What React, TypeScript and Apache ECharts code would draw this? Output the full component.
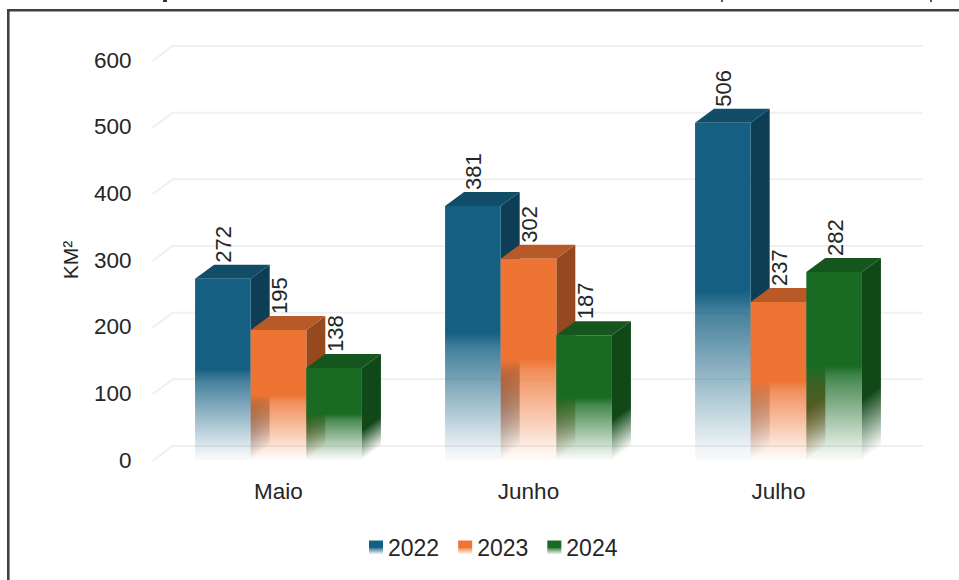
import React, { useEffect, useRef } from "react";
import * as echarts from "echarts";

const categories = ["Maio", "Junho", "Julho"];
const years = ["2022", "2023", "2024"];
const values2022 = [272, 381, 506];
const values2023 = [195, 302, 237];
const values2024 = [138, 187, 282];
const gridTicks = [0, 100, 200, 300, 400, 500, 600];

const frontColors = ["21,96,130", "238,116,51", "25,107,36"];
const sideColors = ["13,62,85", "150,72,30", "17,72,24"];
const topColors = ["17,77,105", "184,90,40", "20,86,29"];

const DX = 19;
const DY = 14;
const FONT = '"Liberation Sans", Arial, sans-serif';

const fade = (rgb: string) =>
  new echarts.graphic.LinearGradient(0, 0, 0, 1, [
    { offset: 0, color: `rgba(${rgb},1)` },
    { offset: 0.5, color: `rgba(${rgb},1)` },
    { offset: 0.56, color: `rgba(${rgb},0.8)` },
    { offset: 0.97, color: `rgba(${rgb},0.06)` },
    { offset: 1, color: `rgba(${rgb},0.03)` },
  ]);

// the side face fades along its own skew, so that the fade follows the bottom edge
const sideFade = (rgb: string, x: number, top: number, bottom: number) => {
  const len2 = DX * DX + DY * DY;
  const k = ((bottom - top) * DX) / len2;
  return new echarts.graphic.LinearGradient(
    x,
    top,
    x + DY * k,
    top + DX * k,
    [
      { offset: 0, color: `rgba(${rgb},1)` },
      { offset: 0.68, color: `rgba(${rgb},1)` },
      { offset: 1, color: `rgba(${rgb},0)` },
    ],
    true
  );
};

const barSeries = (name: string, values: number[], idx: number) => ({
  type: "custom",
  name,
  z: 3 + idx,
  encode: { x: 0, y: 1 },
  itemStyle: { color: fade(frontColors[idx]) },
  data: values.map((v, i) => [i, v]),
  renderItem: (_p: any, api: any) => {
    const cat = api.value(0);
    const val = api.value(1);
    const [cx, top] = api.coord([cat, val]);
    const [, bottom] = api.coord([cat, 0]);
    const w = api.size([1, 0])[0] * 0.2225;
    const x0 = cx + (idx - 1.5) * w;
    const x1 = x0 + w;
    return {
      type: "group",
      children: [
        {
          type: "polygon",
          shape: { points: [[x1, top], [x1 + DX, top - DY], [x1 + DX, bottom - DY], [x1, bottom]] },
          style: { fill: sideFade(sideColors[idx], x1, top, bottom) },
        },
        {
          type: "polygon",
          shape: { points: [[x0, top], [x0 + DX, top - DY], [x1 + DX, top - DY], [x1, top]] },
          style: { fill: `rgb(${topColors[idx]})` },
        },
        {
          type: "rect",
          shape: { x: x0, y: top, width: w, height: bottom - top },
          style: { fill: fade(frontColors[idx]) },
        },
        {
          type: "text",
          x: x0 + w / 2 + 1,
          y: top - DY - 2,
          rotation: Math.PI / 2,
          style: {
            text: String(val),
            font: `22px ${FONT}`,
            fill: "#262626",
            align: "left",
            verticalAlign: "middle",
          },
        },
      ],
    };
  },
});

export default function App() {
  const ref = useRef<HTMLDivElement>(null);
  useEffect(() => {
    const chart = echarts.init(ref.current!, undefined, { renderer: "svg" });
    chart.setOption({
      animation: false,
      backgroundColor: "#fff",
      grid: { left: 153.5, right: 55.5, top: 60, bottom: 120 },
      graphic: [
        { type: "rect", shape: { x: 7, y: 9, width: 952, height: 2.6 }, style: { fill: "#404040" } },
        { type: "rect", shape: { x: 7, y: 9, width: 2.6, height: 571 }, style: { fill: "#404040" } },
        { type: "rect", shape: { x: 163, y: 0, width: 4, height: 2 }, style: { fill: "#333" } },
        { type: "rect", shape: { x: 721, y: 0, width: 2, height: 2 }, style: { fill: "#555" } },
        { type: "rect", shape: { x: 930, y: 0, width: 2, height: 2 }, style: { fill: "#555" } },
      ],
      legend: {
        data: years,
        left: 364,
        top: 531,
        itemWidth: 14,
        itemHeight: 14,
        itemGap: 19,
        icon: "rect",
        textStyle: { fontFamily: FONT, fontSize: 23, color: "#262626" },
      },
      xAxis: {
        type: "category",
        data: categories,
        axisLine: { show: false },
        axisTick: { show: false },
        axisLabel: { fontFamily: FONT, fontSize: 22.5, color: "#262626", margin: 20 },
      },
      yAxis: {
        type: "value",
        min: 0,
        max: 600,
        interval: 100,
        name: "KM²",
        nameLocation: "middle",
        nameRotate: 90,
        nameGap: 73,
        nameTextStyle: { fontFamily: FONT, fontSize: 21, color: "#262626" },
        axisLine: { show: false },
        axisTick: { show: false },
        splitLine: { show: false },
        axisLabel: { fontFamily: FONT, fontSize: 22.5, color: "#262626", margin: 22, padding: [3, 0, 0, 0] },
      },
      series: [
        {
          type: "custom",
          name: "grade",
          z: 1,
          silent: true,
          encode: { x: 0, y: 1 },
          data: gridTicks.map((t) => [0, t]),
          renderItem: (p: any, api: any) => {
            const [, y] = api.coord([0, api.value(1)]);
            const left = p.coordSys.x;
            const right = left + p.coordSys.width;
            return {
              type: "polyline",
              shape: { points: [[left - 1, y + 1], [left + DX, y - DY], [right + DX, y - DY]] },
              style: { stroke: "#f0f0f0", lineWidth: 2, fill: "none" },
            };
          },
        },
        barSeries(years[0], values2022, 0),
        barSeries(years[1], values2023, 1),
        barSeries(years[2], values2024, 2),
      ],
    });
    return () => chart.dispose();
  }, []);
  return (
    <div
      ref={ref}
      style={{ position: "fixed", left: 0, top: 0, width: 959, height: 580, background: "#fff" }}
    />
  );
}
